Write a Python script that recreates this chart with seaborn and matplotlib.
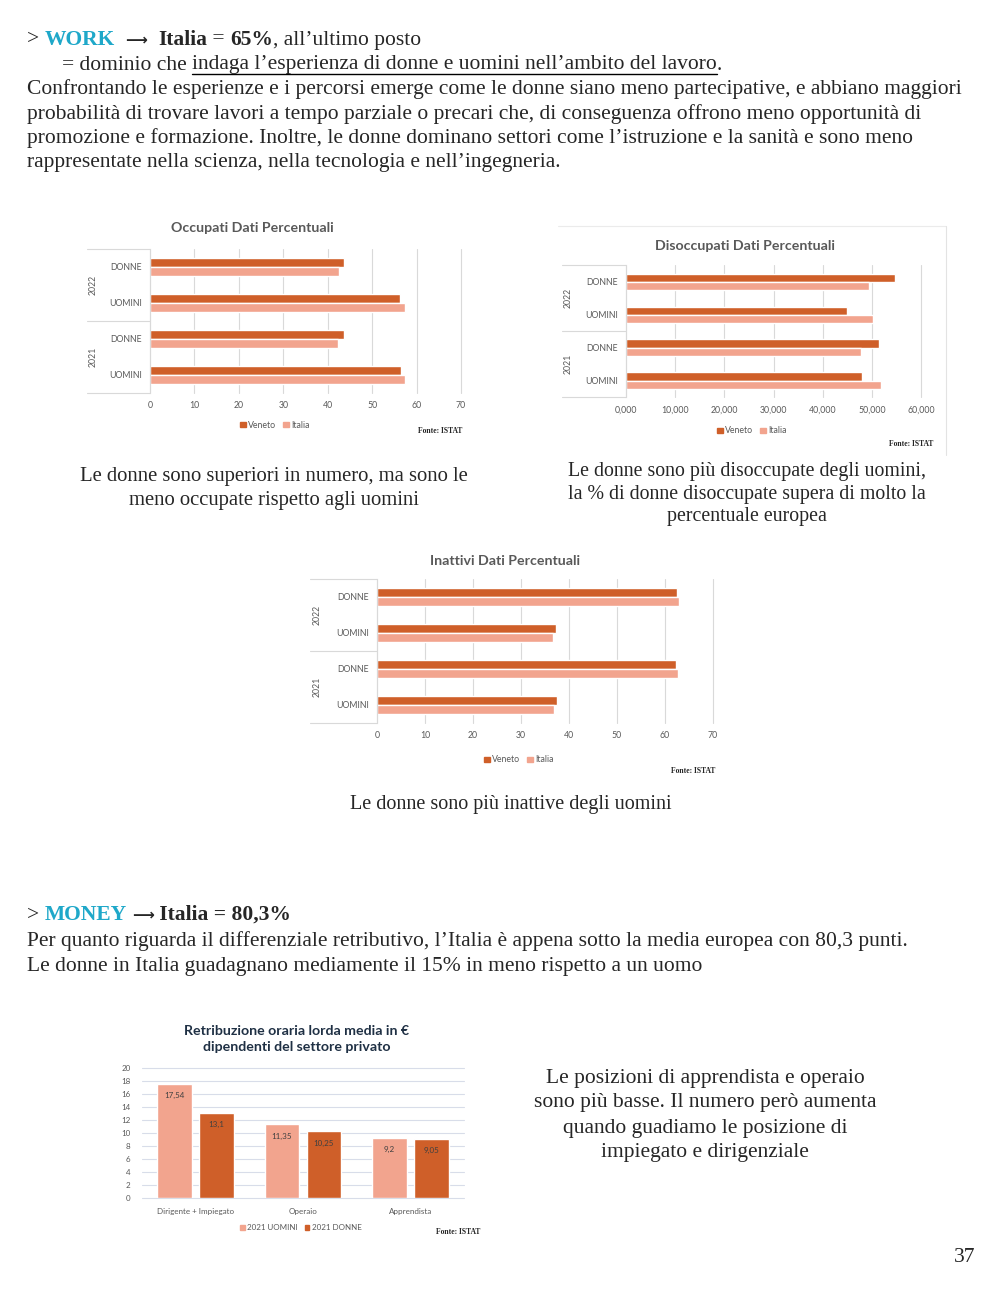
import matplotlib
matplotlib.use('Agg')
import matplotlib.pyplot as plt
import matplotlib.transforms as mtransforms
import seaborn as sns
import pandas as pd
from matplotlib.patches import Patch

W, H = 1000, 1291

# --- dati ---
righe = ['2022 DONNE', '2022 UOMINI', '2021 DONNE', '2021 UOMINI']
etichette_righe = ['DONNE', 'UOMINI', 'DONNE', 'UOMINI']
anni = ['2022', '2021']
aree = ['Veneto', 'Italia']

occupati_veneto = [43.6, 56.2, 43.6, 56.4]
occupati_italia = [42.5, 57.3, 42.4, 57.4]
disoccupati_veneto = [54.7, 45.0, 51.5, 48.0]
disoccupati_italia = [49.4, 50.2, 47.7, 51.9]
inattivi_veneto = [62.4, 37.2, 62.2, 37.4]
inattivi_italia = [63.0, 36.7, 62.8, 36.9]

posizioni = ['Dirigente + Impiegato', 'Operaio', 'Apprendista']
serie_retr = ['2021 UOMINI', '2021 DONNE']
retr_uomini = [17.54, 11.35, 9.2]
retr_donne = [13.1, 10.25, 9.05]

VENETO = '#CF5F29'
ITALIA = '#F2A48E'
CIANO = '#1FA8C9'
GRIGIO = '#595959'
GRID = '#D9D9D9'
SERIF = ['Liberation Serif', 'DejaVu Serif']
SANS = ['Lato', 'DejaVu Sans']
CORPO = 15.5
TITOLO = 10.2

sns.set_theme(style='white')
plt.rcParams['font.family'] = SANS

fig = plt.figure(figsize=(W / 100, H / 100), dpi=100)
fig.patch.set_facecolor('white')
renderer = fig.canvas.get_renderer()


def fx(x):
    return x / W


def fy(y):
    return 1 - y / H


def px_rect(x0, y0, x1, y1):
    return [fx(x0), fy(y1), (x1 - x0) / W, (y1 - y0) / H]


def testo(x, y, s, size=CORPO, **kw):
    kw.setdefault('family', SERIF)
    kw.setdefault('va', 'center')
    return fig.text(fx(x), fy(y), s, fontsize=size, **kw)


def riga_ricca(x, y, parti, size=CORPO):
    # parti: (testo, opzioni); restituisce le x di inizio/fine di ogni pezzo
    estensioni = []
    for s, kw in parti:
        kw = dict(kw)
        dim = kw.pop('size', size)
        t = testo(x, y, s, dim, **kw)
        bb = t.get_window_extent(renderer)
        estensioni.append((x, x + bb.width))
        x += bb.width
    return estensioni


# --- testo della pagina ---
B = dict(weight='bold')
FRECCIA = dict(weight='bold', family=['DejaVu Sans'], size=11)
riga_ricca(27, 40, [('> ', {}), ('WORK', dict(weight='bold', color=CIANO)), ('  ', {}),
                    ('⟶', FRECCIA), ('  ', {}),
                    ('Italia', B), (' = ', {}), ('65%', B), (', all’ultimo posto', {})])
ext = riga_ricca(62, 65, [('= dominio che ', {}),
                          ('indaga l’esperienza di donne e uomini nell’ambito del lavoro', {}),
                          ('.', {})])
x0, x1 = ext[1]
fig.add_artist(plt.Line2D([fx(x0), fx(x1)], [fy(74), fy(74)], color='black', lw=1))

corpo = ['Confrontando le esperienze e i percorsi emerge come le donne siano meno partecipative, e abbiano maggiori',
         'probabilità di trovare lavori a tempo parziale o precari che, di conseguenza offrono meno opportunità di',
         'promozione e formazione. Inoltre, le donne dominano settori come l’istruzione e la sanità e sono meno',
         'rappresentate nella scienza, nella tecnologia e nell’ingegneria.']
for i, r in enumerate(corpo):
    testo(27, 89 + i * 24.6, r)

for i, r in enumerate(['Le donne sono superiori in numero, ma sono le', 'meno occupate rispetto agli uomini']):
    testo(274, 477 + i * 24, r, size=14.9, ha='center')
for i, r in enumerate(['Le donne sono più disoccupate degli uomini,', 'la % di donne disoccupate supera di molto la',
                       'percentuale europea']):
    testo(747, 471 + i * 23, r, size=14.3, ha='center')
testo(511, 805, 'Le donne sono più inattive degli uomini', size=14.5, ha='center')

riga_ricca(27, 915, [('> ', {}), ('MONEY', dict(weight='bold', color=CIANO)), (' ', {}),
                     ('⟶', FRECCIA), (' Italia = 80,3%', B)])
testo(27, 941, 'Per quanto riguarda il differenziale retributivo, l’Italia è appena sotto la media europea con 80,3 punti.')
testo(27, 966, 'Le donne in Italia guadagnano mediamente il 15% in meno rispetto a un uomo')

for i, r in enumerate(['Le posizioni di apprendista e operaio', 'sono più basse. Il numero però aumenta',
                       'quando guadiamo le posizione di', 'impiegato e dirigenziale']):
    testo(705, 1078 + i * 25, r, size=15.5, ha='center')

testo(965, 1257, '37', ha='center')


# --- grafici a barre orizzontali ---
def grafico_orizzontale(rect, veneto, italia, xmax, passo, formato, titolo, titolo_xy,
                        legenda_xy, fonte_xy, sinistra_px, anno_px):
    x0p, y0p, x1p, y1p = rect
    ax = fig.add_axes(px_rect(*rect))
    df = pd.DataFrame({'riga': righe * 2,
                       'area': [aree[0]] * 4 + [aree[1]] * 4,
                       'valore': veneto + italia})
    sns.barplot(data=df, y='riga', x='valore', hue='area', orient='h', order=righe,
                hue_order=aree, palette=[VENETO, ITALIA], width=0.5, gap=0,
                saturation=1, legend=False, ax=ax)
    ax.set_xlim(0, xmax)
    ax.set_ylim(3.5, -0.5)
    tick = list(range(0, xmax + 1, passo))
    ax.set_xticks(tick)
    ax.set_xticklabels([formato(v) for v in tick])
    ax.set_yticks(range(4))
    ax.set_yticklabels(etichette_righe)
    ax.set_xlabel('')
    ax.set_ylabel('')
    ax.xaxis.grid(True, color=GRID, lw=0.8)
    for g in ax.xaxis.get_gridlines():
        g.set_clip_on(False)
    ax.set_axisbelow(True)
    for s in ['top', 'right', 'bottom']:
        ax.spines[s].set_visible(False)
    ax.spines['left'].set_color(GRID)
    ax.spines['left'].set_linewidth(0.8)
    ax.tick_params(axis='both', length=0, labelsize=6.3, colors=GRIGIO)
    ax.tick_params(axis='x', pad=6)
    ax.tick_params(axis='y', pad=6)
    trans = mtransforms.blended_transform_factory(ax.transAxes, ax.transData)
    xs = (sinistra_px - x0p) / (x1p - x0p)
    for yv in [-0.5, 1.5, 3.5]:
        ax.plot([xs, 0], [yv, yv], transform=trans, clip_on=False, color=GRID, lw=0.8)
    xa = (anno_px - x0p) / (x1p - x0p)
    for yv, a in zip([0.5, 2.5], anni):
        ax.text(xa, yv, a, transform=trans, rotation=90, ha='center', va='center',
                fontsize=6.3, color=GRIGIO)
    fig.text(fx(titolo_xy[0]), fy(titolo_xy[1]), titolo, ha='center', va='center',
             fontsize=TITOLO, weight='bold', color=GRIGIO)
    fig.legend(handles=[Patch(color=VENETO, label='Veneto'), Patch(color=ITALIA, label='Italia')],
               loc='center', bbox_to_anchor=(fx(legenda_xy[0]), fy(legenda_xy[1])), ncol=2,
               frameon=False, fontsize=6.3, handlelength=0.6, handleheight=0.6,
               handletextpad=0.3, columnspacing=0.8, labelcolor=GRIGIO)
    testo(fonte_xy[0], fonte_xy[1], 'Fonte: ISTAT', size=5.5, ha='right', weight='bold')
    return ax


grafico_orizzontale((150, 248.7, 461, 392.7), occupati_veneto, occupati_italia, 70, 10,
                    lambda v: f'{v}', 'Occupati Dati Percentuali', (252, 228),
                    (275, 425), (462, 431), 87, 93)
grafico_orizzontale((626, 265.5, 921, 397), disoccupati_veneto, disoccupati_italia, 60, 10,
                    lambda v: f'{v:.3f}'.replace('.', ','), 'Disoccupati Dati Percentuali',
                    (745, 246), (752, 431), (933, 444), 562, 568)
grafico_orizzontale((377, 578.5, 713, 722.5), inattivi_veneto, inattivi_italia, 70, 10,
                    lambda v: f'{v}', 'Inattivi Dati Percentuali', (505, 561),
                    (519, 760), (715, 771), 310, 317)

# cornice leggera dell'immagine del secondo grafico
fig.add_artist(plt.Line2D([fx(558), fx(946)], [fy(226), fy(226)], color='#EBEBEB', lw=0.8))
fig.add_artist(plt.Line2D([fx(946), fx(946)], [fy(226), fy(455)], color='#E3E3E3', lw=0.8))

# --- grafico retribuzione ---
ax4 = fig.add_axes(px_rect(141.75, 1068, 464.25, 1198))
df4 = pd.DataFrame({'posizione': posizioni * 2,
                    'serie': [serie_retr[0]] * 3 + [serie_retr[1]] * 3,
                    'valore': retr_uomini + retr_donne})
sns.barplot(data=df4, x='posizione', y='valore', hue='serie', order=posizioni,
            hue_order=serie_retr, palette=[ITALIA, VENETO], width=0.78, gap=0.18,
            saturation=1, legend=False, ax=ax4)
ax4.set_ylim(0, 20)
ax4.set_xlim(-0.5, 2.5)
ax4.set_yticks(range(0, 21, 2))
ax4.set_xlabel('')
ax4.set_ylabel('')
ax4.yaxis.grid(True, color='#D8DDE9', lw=0.8)
for g in ax4.yaxis.get_gridlines():
    g.set_clip_on(False)
ax4.set_axisbelow(True)
for s in ax4.spines.values():
    s.set_visible(False)
ax4.tick_params(axis='both', length=0, labelsize=5.8, colors=GRIGIO)
ax4.tick_params(axis='y', pad=8)
ax4.tick_params(axis='x', pad=7)
for cont, valori in zip(ax4.containers, [retr_uomini, retr_donne]):
    ax4.bar_label(cont, labels=[f'{v:g}'.replace('.', ',') for v in valori], padding=-11,
                  fontsize=5.8, color='#404040')
fig.text(fx(297), fy(1039), 'Retribuzione oraria lorda media in €\ndipendenti del settore privato',
         ha='center', va='center', fontsize=TITOLO, weight='bold', color='#1F3044', linespacing=1.4)
fig.legend(handles=[Patch(color=ITALIA, label=serie_retr[0]), Patch(color=VENETO, label=serie_retr[1])],
           loc='center', bbox_to_anchor=(fx(301), fy(1228)), ncol=2, frameon=False, fontsize=5.8,
           handlelength=0.6, handleheight=0.6, handletextpad=0.3, columnspacing=0.8,
           labelcolor=GRIGIO)
testo(480, 1232, 'Fonte: ISTAT', size=5.5, ha='right', weight='bold')

fig.savefig('out.png', dpi=100, facecolor='white')
